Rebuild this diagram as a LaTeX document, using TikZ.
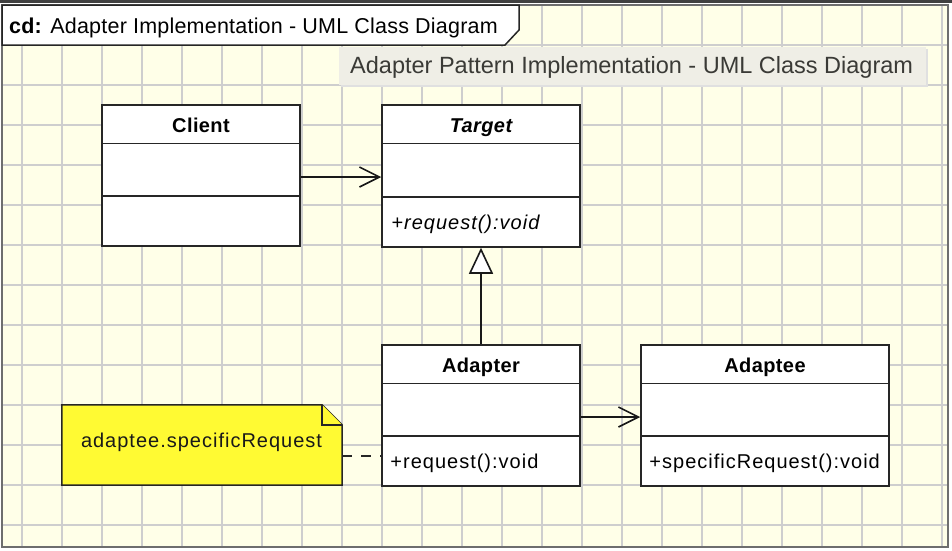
\documentclass[tikz,border=0pt]{standalone}
\usepackage{fontspec}
\setmainfont{Liberation Sans}
\usetikzlibrary{arrows.meta,calc}
\definecolor{paper}{RGB}{255,255,232}
\definecolor{gridgray}{RGB}{206,206,206}
\definecolor{framegray}{RGB}{110,110,110}
\definecolor{notey}{RGB}{255,250,51}
\definecolor{tipbg}{RGB}{239,238,230}
\definecolor{tiptext}{RGB}{58,58,54}
\tikzset{
  gridline/.style={draw=gridgray, line width=1.8pt},
  classbox/.style={draw=black!85, fill=white, line width=1.5pt, inner sep=0pt},
  sepline/.style={draw=black!85, line width=1.5pt},
  cname/.style={font=\fontsize{20}{22}\selectfont\bfseries\addfontfeatures{LetterSpace=2}, inner sep=0pt, anchor=base},
  cmember/.style={font=\fontsize{20}{22}\selectfont\addfontfeatures{LetterSpace=5}, inner sep=0pt, anchor=base west},
  assoc/.style={draw=black!90, line width=1.6pt, -{Straight Barb[length=20pt,width=20pt,line width=1.6pt]}},
  generalize/.style={draw=black!90, line width=1.6pt, -{Triangle[length=26pt,width=24pt,fill=white,line width=1.6pt]}},
  notelink/.style={draw=black!85, line width=1.5pt, dash pattern=on 10pt off 9pt},
}
\begin{document}
\begin{tikzpicture}[x=1pt,y=-1pt]
\useasboundingbox (0,0) rectangle (952,550);
% top strip
\fill[white] (0,0) rectangle (952,550);
\fill[black!75] (0,0) rectangle (952,3);
% paper and grid
\fill[paper] (2,5) rectangle (948,547);
\foreach \k in {0,...,23} { \draw[gridline] ({22+40*\k},5) -- ({22+40*\k},547); }
\foreach \k in {0,...,12} { \draw[gridline] (2,{45+40*\k}) -- (948,{45+40*\k}); }
\draw[draw=framegray, line width=2pt] (2,5) rectangle (948,547);
% frame label
\draw[fill=white, draw=black!85, line width=1.5pt] (2,5) -- (519,5) -- (519,30) -- (505,45) -- (2,45) -- cycle;
\node[anchor=base west, inner sep=0pt, font=\fontsize{21.5}{24}\selectfont\addfontfeatures{LetterSpace=1}] (title) at (9,33) {\textbf{cd:} Adapter Implementation - UML Class Diagram};
% tooltip
\fill[black!12] (341,49) rectangle (928,87);
\fill[tipbg] (339,47) rectangle (926,85);
\node[anchor=base west, inner sep=0pt, text=tiptext, font=\fontsize{23.5}{26}\selectfont] (tooltip) at (350,73) {Adapter Pattern Implementation - UML Class Diagram};
% classes
\node[classbox, minimum width=198pt, minimum height=141pt] (client) at (201,175.5) {};
\node[classbox, minimum width=198pt, minimum height=142pt] (target) at (481,176) {};
\node[classbox, minimum width=198pt, minimum height=141pt] (adapter) at (481,415.5) {};
\node[classbox, minimum width=248pt, minimum height=141pt] (adaptee) at (765,415.5) {};
\foreach \c in {client,target,adapter,adaptee} {
  \draw[sepline] ($(\c.north west)+(0,39)$) -- ($(\c.north east)+(0,39)$);
  \draw[sepline] ($(\c.south west)+(0,-51)$) -- ($(\c.south east)+(0,-51)$);
}
\node[cname] (clientname) at ($(client.north)+(0,28)$) {Client};
\node[cname, font=\fontsize{20}{22}\selectfont\bfseries\itshape\addfontfeatures{LetterSpace=2}] (targetname) at ($(target.north)+(0,28)$) {Target};
\node[cname] (adaptername) at ($(adapter.north)+(0,28)$) {Adapter};
\node[cname] (adapteename) at ($(adaptee.north)+(0,28)$) {Adaptee};
\node[cmember, font=\fontsize{20}{22}\selectfont\itshape\addfontfeatures{LetterSpace=5}] (targetop) at ($(target.south west)+(10,-18)$) {+request():void};
\node[cmember] (adapterop) at ($(adapter.south west)+(9,-18)$) {+request():void};
\node[cmember] (adapteeop) at ($(adaptee.south west)+(9,-18)$) {+specificRequest():void};
% connectors
\draw[assoc] ($(client.east)+(0,1.5)$) -- ($(target.west)+(0,1)$);
\draw[assoc] ($(adapter.east)+(0,1.5)$) -- ($(adaptee.west)+(0,1.5)$);
\draw[generalize] (adapter.north) -- (target.south);
% note
\node[minimum width=280pt, minimum height=80pt, inner sep=0pt] (note) at (202,445) {};
\draw[fill=notey, draw=black!85, line width=1.5pt]
  (note.north west) -- ($(note.north east)+(-20,0)$) -- ($(note.north east)+(0,20)$) -- (note.south east) -- (note.south west) -- cycle;
\draw[fill=notey, draw=black!85, line width=1.5pt]
  ($(note.north east)+(-20,0)$) -- ($(note.north east)+(-20,20)$) -- ($(note.north east)+(0,20)$);
\node[cmember, text=black!90] (notetext) at ($(note.west)+(19,2)$) {adaptee.specificRequest};
\coordinate (nl) at ($(note.east)+(0,11)$);
\draw[notelink] (nl) -- (nl -| adapter.west);
\end{tikzpicture}
\end{document}
